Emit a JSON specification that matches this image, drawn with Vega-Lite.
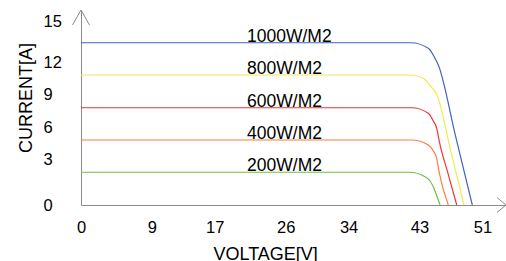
{
  "$schema": "https://vega.github.io/schema/vega-lite/v6.json",
  "width": 425,
  "height": 195,
  "autosize": {"type": "none"},
  "padding": {"left": 81, "top": 10, "right": 0, "bottom": 56},
  "background": "white",
  "config": {"view": {"stroke": null}, "font": "Liberation Sans", "axis": {"labelOverlap": false}},
  "datasets": {
    "curves": [
      {"s": "1000", "v": 0, "i": 13.73}, {"s": "1000", "v": 41.93, "i": 13.73}, {"s": "1000", "v": 44.13, "i": 13.26}, {"s": "1000", "v": 44.98, "i": 12.41}, {"s": "1000", "v": 45.4, "i": 11.85}, {"s": "1000", "v": 47.56, "i": 5.92}, {"s": "1000", "v": 49.72, "i": 0},
      {"s": "800", "v": 0, "i": 11.0}, {"s": "800", "v": 41.8, "i": 11.0}, {"s": "800", "v": 43.49, "i": 10.72}, {"s": "800", "v": 44.13, "i": 10.3}, {"s": "800", "v": 44.66, "i": 9.86}, {"s": "800", "v": 45.23, "i": 9.31}, {"s": "800", "v": 46.95, "i": 4.65}, {"s": "800", "v": 48.67, "i": 0},
      {"s": "600", "v": 0, "i": 8.23}, {"s": "600", "v": 42.02, "i": 8.23}, {"s": "600", "v": 44.13, "i": 7.76}, {"s": "600", "v": 44.73, "i": 7.15}, {"s": "600", "v": 45.2, "i": 6.49}, {"s": "600", "v": 45.53, "i": 5.36}, {"s": "600", "v": 46.63, "i": 2.68}, {"s": "600", "v": 47.74, "i": 0},
      {"s": "400", "v": 0, "i": 5.5}, {"s": "400", "v": 42.02, "i": 5.5}, {"s": "400", "v": 44.13, "i": 5.08}, {"s": "400", "v": 44.73, "i": 4.61}, {"s": "400", "v": 45.2, "i": 3.95}, {"s": "400", "v": 45.49, "i": 2.82}, {"s": "400", "v": 46.67, "i": 0},
      {"s": "200", "v": 0, "i": 2.77}, {"s": "200", "v": 41.8, "i": 2.77}, {"s": "200", "v": 43.71, "i": 2.39}, {"s": "200", "v": 44.35, "i": 2.03}, {"s": "200", "v": 44.76, "i": 1.55}, {"s": "200", "v": 45.32, "i": 0.57}, {"s": "200", "v": 45.62, "i": 0}
    ],
    "labels": [
      {"label": "1000W/M2", "v": 21.1, "i": 13.73},
      {"label": "800W/M2", "v": 21.1, "i": 11.0},
      {"label": "600W/M2", "v": 21.1, "i": 8.23},
      {"label": "400W/M2", "v": 21.1, "i": 5.5},
      {"label": "200W/M2", "v": 21.1, "i": 2.77}
    ],
    "arrowX": [{"v": 54, "i": 0}],
    "arrowY": [{"v": 0, "i": 16.5}]
  },
  "encoding": {
    "x": {
      "field": "v", "type": "quantitative",
      "scale": {"domain": [0, 54], "nice": false, "zero": false},
      "axis": {
        "values": [0, 9, 17, 26, 34, 43, 51],
        "grid": false, "ticks": false, "tickSize": 0,
        "domainColor": "#8a8a8a", "domainWidth": 1,
        "labelFontSize": 16.5, "labelColor": "#000", "labelFont": "Liberation Sans",
        "labelBaseline": "alphabetic", "labelPadding": 27, "labelFlush": false, "labelOverlap": false,
        "title": "VOLTAGE[V]", "titleFontSize": 18, "titleFontWeight": "normal", "titleColor": "#000",
        "titleFont": "Liberation Sans",
        "titleX": 132, "titleY": 54.6, "titleAlign": "left", "titleBaseline": "alphabetic"
      }
    },
    "y": {
      "field": "i", "type": "quantitative",
      "scale": {"domain": [0, 16.5], "nice": false},
      "axis": {
        "values": [0, 3.89, 6.57, 9.37, 12.07, 15.51],
        "labelExpr": "datum.value < 1 ? '0' : datum.value < 5 ? '3' : datum.value < 8 ? '6' : datum.value < 11 ? '9' : datum.value < 14 ? '12' : '15'",
        "grid": false, "ticks": false, "tickSize": 0,
        "domainColor": "#8a8a8a", "domainWidth": 1,
        "labelFontSize": 16.5, "labelColor": "#000", "labelFont": "Liberation Sans",
        "labelAlign": "left", "labelBaseline": "middle", "labelPadding": 38, "labelFlush": false, "labelOverlap": false,
        "labelBound": false,
        "title": "CURRENT[A]", "titleFontSize": 18, "titleFontWeight": "normal", "titleColor": "#000",
        "titleFont": "Liberation Sans",
        "titleAngle": -90, "titleX": -49.5, "titleY": 87.5, "titleAlign": "center", "titleBaseline": "alphabetic"
      }
    }
  },
  "layer": [
    {
      "data": {"name": "curves"},
      "mark": {"type": "line", "interpolate": "monotone", "strokeWidth": 1.2},
      "encoding": {
        "color": {
          "field": "s", "type": "nominal",
          "scale": {"domain": ["1000", "800", "600", "400", "200"], "range": ["#4563c0", "#f2ea50", "#e83838", "#f7803f", "#6cc044"]},
          "legend": null
        },
        "detail": {"field": "s"}
      }
    },
    {
      "data": {"name": "labels"},
      "mark": {"type": "text", "align": "left", "baseline": "alphabetic", "dy": -1, "fontSize": 17.5, "font": "Liberation Sans", "color": "#000"},
      "encoding": {
        "text": {"field": "label"}
      }
    },
    {
      "data": {"name": "arrowX"},
      "mark": {"type": "point", "shape": "M-1,-0.83L0,0L-1,0.83", "size": 324, "filled": false, "stroke": "#8a8a8a", "strokeWidth": 1, "opacity": 1},
      "encoding": {}
    },
    {
      "data": {"name": "arrowY"},
      "mark": {"type": "point", "shape": "M-0.567,1L0,0L0.567,1", "size": 900, "filled": false, "stroke": "#8a8a8a", "strokeWidth": 1, "opacity": 1},
      "encoding": {}
    }
  ]
}
